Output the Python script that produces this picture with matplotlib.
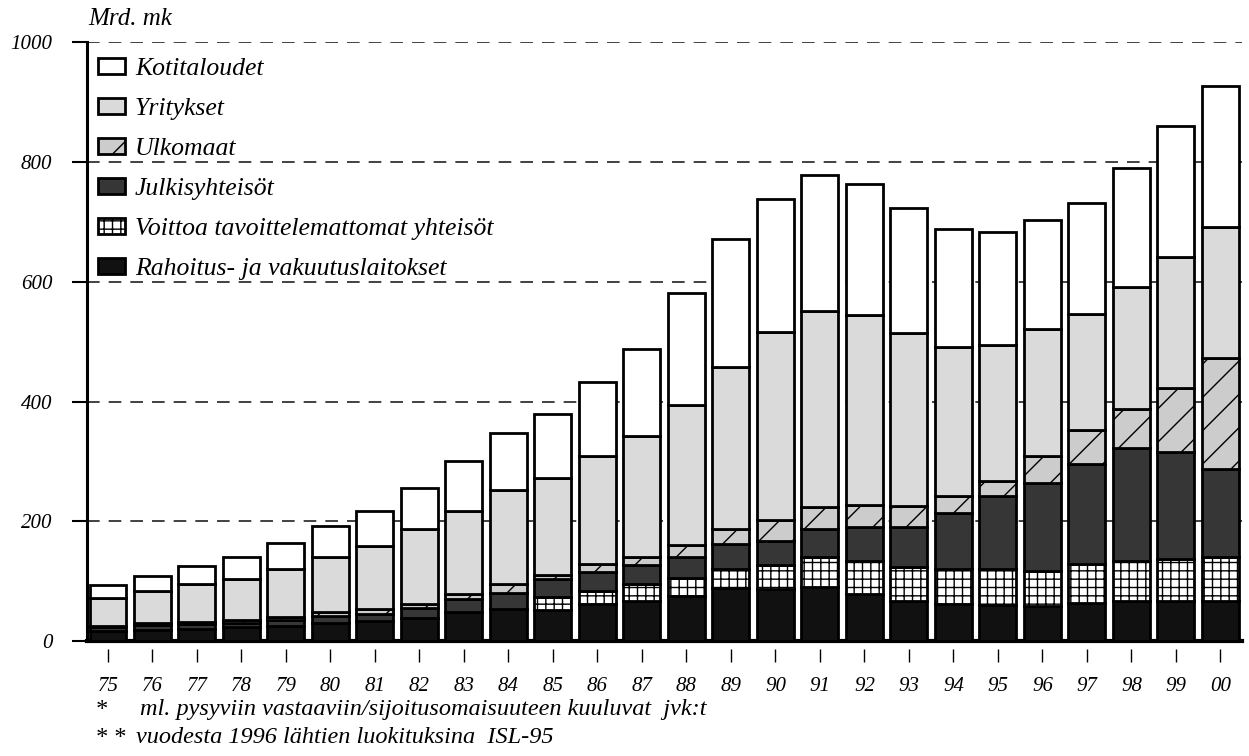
import numpy as np
import matplotlib
matplotlib.use("Agg")
import matplotlib.pyplot as plt
from matplotlib.patches import Patch

plt.rcParams['font.family'] = ['Liberation Serif', 'DejaVu Serif']
plt.rcParams['font.style'] = 'italic'
plt.rcParams['hatch.linewidth'] = 1.0

# Mrd. mk, 1975-2000
years = ["75", "76", "77", "78", "79", "80", "81", "82", "83", "84", "85", "86", "87",
         "88", "89", "90", "91", "92", "93", "94", "95", "96", "97", "98", "99", "00"]
rahoitus = [17, 19, 21, 23, 26, 31, 33, 39, 48, 53, 52, 62, 67,
            76, 88, 87, 90, 78, 67, 62, 60, 59, 64, 67, 67, 67]
voittoa = [0, 0, 0, 0, 0, 0, 0, 0, 0, 0, 21, 22, 28,
           29, 33, 40, 50, 56, 56, 58, 60, 58, 64, 67, 70, 73]
julkis = [7, 8, 8, 8, 9, 11, 13, 16, 22, 28, 30, 31, 32,
          35, 41, 40, 48, 56, 67, 94, 123, 147, 167, 189, 179, 147]
ulkomaat = [2, 3, 3, 4, 6, 7, 7, 7, 8, 15, 7, 13, 13,
            20, 26, 36, 36, 38, 36, 28, 24, 45, 58, 64, 107, 186]
yritykset = [46, 53, 64, 69, 80, 92, 106, 125, 140, 156, 162, 181, 203,
             235, 270, 313, 328, 316, 288, 250, 227, 212, 193, 204, 218, 218]
kotitaloudet = [21, 25, 30, 36, 42, 51, 58, 69, 82, 95, 108, 123, 145,
                186, 214, 222, 226, 219, 209, 196, 190, 182, 186, 199, 219, 236]

labels = ["Kotitaloudet", "Yritykset", "Ulkomaat", "Julkisyhteisöt",
          "Voittoa tavoittelemattomat yhteisöt", "Rahoitus- ja vakuutuslaitokset"]

# bottom to top
series = [rahoitus, voittoa, julkis, ulkomaat, yritykset, kotitaloudet]
styles = [
    dict(facecolor="#111111", hatch=None),
    dict(facecolor="white", hatch="++"),
    dict(facecolor="#363636", hatch=None),
    dict(facecolor="#cccccc", hatch="/"),
    dict(facecolor="#dadada", hatch=None),
    dict(facecolor="white", hatch=None),
]

fig = plt.figure(figsize=(12.49, 7.56), dpi=100)
ax = fig.add_axes([0.0697, 0.152, 0.9245, 0.792])

x = np.arange(len(years))
bottom = np.zeros(len(years))
for vals, st in zip(series, styles):
    ax.bar(x, vals, width=0.83, bottom=bottom, color=st["facecolor"],
           edgecolor="black", linewidth=2.0, hatch=st["hatch"], zorder=3)
    bottom += np.array(vals)

ax.set_xlim(-0.47, 25.48)
ax.set_ylim(0, 1000)
ax.set_yticks([0, 200, 400, 600, 800, 1000])
for v in [200, 400, 600, 800, 1000]:
    ax.axhline(v, color="#333333", linestyle=(0, (7, 5)), linewidth=1.3, zorder=1)

ax.set_xticks(x, years)
ax.tick_params(axis="x", length=0, pad=26, labelsize=15)
ax.tick_params(axis="y", direction="out", length=11, width=1.5, pad=14, labelsize=15)
ax.vlines(x, -0.014, -0.035, transform=ax.get_xaxis_transform(), color="black",
          linewidth=1.0, clip_on=False)

for s in ["top", "right"]:
    ax.spines[s].set_visible(False)
ax.spines["left"].set_linewidth(2.2)
ax.spines["bottom"].set_linewidth(3)

handles = [Patch(facecolor=st["facecolor"], edgecolor="black", linewidth=2.0, hatch=st["hatch"])
           for st in styles][::-1]
ax.legend(handles, labels, loc="upper left", bbox_to_anchor=(0.0095, 0.974),
          frameon=False, fontsize=18.5, handlelength=1.05, handleheight=0.58,
          labelspacing=0.7, handletextpad=0.39, borderpad=0, borderaxespad=0)

fig.text(0.071, 0.975, "Mrd. mk", fontsize=18, va="center", ha="left")
fig.text(0.076, 0.0542, "*", fontsize=17.5, va="baseline", ha="left")
fig.text(0.112, 0.0542, "ml. pysyviin vastaaviin/sijoitusomaisuuteen kuuluvat  jvk:t",
         fontsize=17.5, va="baseline", ha="left")
fig.text(0.076, 0.0172, "* *", fontsize=17.5, va="baseline", ha="left")
fig.text(0.109, 0.0172, "vuodesta 1996 lähtien luokituksina  ISL-95",
         fontsize=17.5, va="baseline", ha="left")

fig.savefig("out.png", dpi=100)
